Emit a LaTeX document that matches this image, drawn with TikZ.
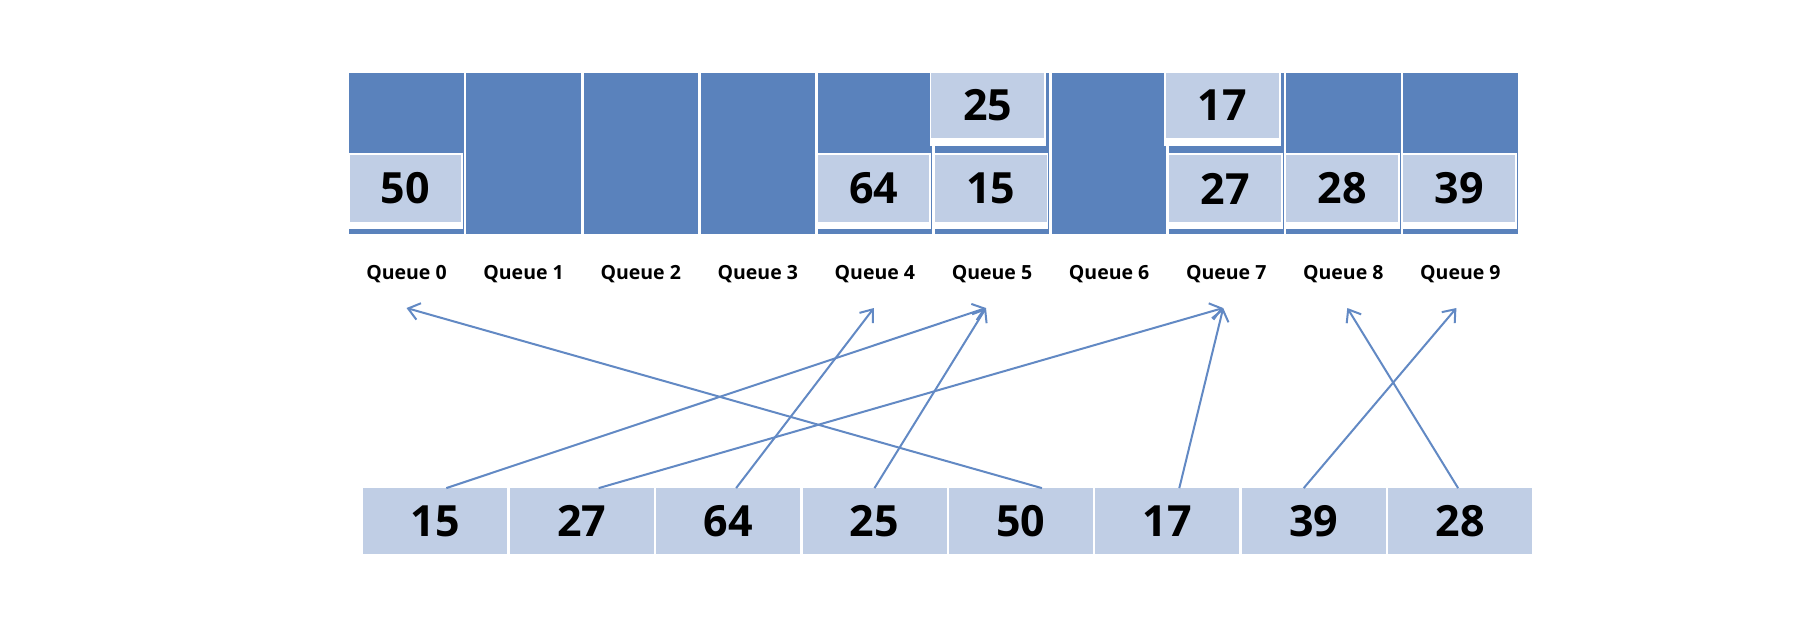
\documentclass[tikz,border=0pt]{standalone}
\usepackage{fontspec}
\setmainfont{Open Sans}
\usetikzlibrary{arrows.meta}
\definecolor{darkq}{HTML}{5A82BC}
\definecolor{lightq}{HTML}{C0CEE5}
\definecolor{arr}{HTML}{6289C4}
\begin{document}
\begin{tikzpicture}[x=1pt,y=-1pt,
  numbox/.style={fill=lightq, inner sep=0pt, font=\fontsize{43}{43}\selectfont\bfseries},
  qlabel/.style={font=\fontsize{19.5}{19.5}\selectfont\bfseries, inner sep=0pt},
  conn/.style={draw=arr, line width=2pt, -{Straight Barb[length=11pt,width=17pt,line width=2pt]}},
  ]
\useasboundingbox (0,0) rectangle (1796,638);
\fill[white] (0,0) rectangle (1796,638);
% queue columns and labels
\foreach \i in {0,...,9} {
  \fill[darkq] ({349.3+117.1*\i},72.7) rectangle ({463.8+117.1*\i},234);
  \node[qlabel] (q\i) at ({406.5+117.1*\i},274) {Queue \i};
}
% lower items in queues
\foreach \i/\v in {0/50,4/64,5/15,7/27,8/28,9/39} {
  \fill[white] ({348.3+117.1*\i},153) rectangle ({462.8+117.1*\i},228.5);
  \node[numbox, minimum width=111.5pt, minimum height=67pt] (n\i) at ({405.3+117.1*\i},188.5) {\raisebox{-3.5pt}{\v}};
}
% upper items in queues
\foreach \i/\v in {5/25,7/17} {
  \fill[white] ({344.3+117.1*\i},71) rectangle ({460.8+117.1*\i},146);
  \node[numbox, minimum width=113pt, minimum height=65.6pt] (u\i) at ({402.3+117.1*\i},105.5) {\raisebox{-3.5pt}{\v}};
}
% input array
\foreach \k/\v in {0/15,1/27,2/64,3/25,4/50,5/17,6/39,7/28} {
  \node[numbox, minimum width=144pt, minimum height=66pt] (b\k) at ({435.3+146.4*\k},521.3) {\raisebox{-4pt}{\v}};
}
% connectors
\draw[conn] ([xshift=11pt]b0.north) -- ([xshift=-6pt,yshift=-34pt]q5.center);
\draw[conn] ([xshift=17pt]b1.north) -- ([xshift=-3pt,yshift=-34pt]q7.center);
\draw[conn] ([xshift=8pt]b2.north) -- ([xshift=-1pt,yshift=-34pt]q4.center);
\draw[conn] ([xshift=0pt]b3.north) -- ([xshift=-6pt,yshift=-34pt]q5.center);
\draw[conn] ([xshift=21pt]b4.north) -- ([xshift=0pt,yshift=-34pt]q0.center);
\draw[conn] ([xshift=12pt]b5.north) -- ([xshift=-3pt,yshift=-34pt]q7.center);
\draw[conn] ([xshift=-10pt]b6.north) -- ([xshift=-4pt,yshift=-34pt]q9.center);
\draw[conn] ([xshift=-2pt]b7.north) -- ([xshift=4pt,yshift=-34pt]q8.center);
\end{tikzpicture}
\end{document}
